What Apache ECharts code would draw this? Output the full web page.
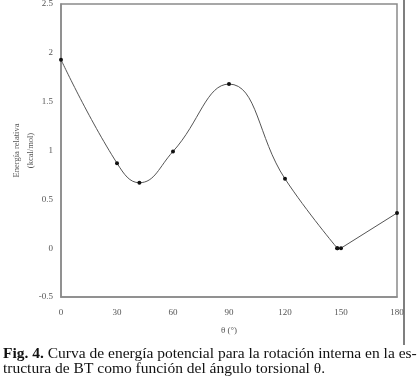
<!DOCTYPE html>
<html><head><meta charset="utf-8">
<script src="https://cdn.jsdelivr.net/npm/echarts@6/dist/echarts.min.js"></script>
<style>html,body{margin:0;padding:0;background:#fff}#c{width:419px;height:382px}</style>
</head><body><div id="c"></div>
<script>
// smooth part of the curve (0 … 148°) and straight tail (148 … 180°)
const thetaSmooth = [0, 30, 42, 60, 90, 120, 148];
const energySmooth = [1.93, 0.87, 0.67, 0.99, 1.68, 0.71, 0.0];
const thetaTail = [148, 150, 180];
const energyTail = [0.0, 0.0, 0.36];
const xTicks = [0, 30, 60, 90, 120, 150, 180];
const yTicks = [-0.5, 0, 0.5, 1, 1.5, 2, 2.5];
const yName1 = 'Energía relativa';
const yName2 = '(kcal/mol)';
const xName = 'θ (°)';

const chart = echarts.init(document.getElementById('c'));
const serif = '"Liberation Serif","DejaVu Serif",serif';
const lineStyle = {color: '#555', width: 1};
chart.setOption({
  backgroundColor: '#fff',
  animation: false,
  grid: {left: 61, right: 22, top: 4, bottom: 85, containLabel: false, outerBoundsMode: 'none',
         show: true, borderColor: '#8a8a8a', borderWidth: 1.5, backgroundColor: 'transparent'},
  xAxis: {
    type: 'value', min: xTicks[0], max: xTicks[xTicks.length-1], interval: 30,
    axisLine: {show: true, onZero: false, lineStyle: {color: '#8a8a8a', width: 1.5}},
    axisTick: {show: false}, splitLine: {show: false},
    axisLabel: {color: '#555', fontFamily: serif, fontSize: 9, margin: 11},
    name: xName, nameLocation: 'middle', nameGap: 29, nameMoveOverlap: false,
    nameTextStyle: {color: '#555', fontFamily: serif, fontSize: 9}
  },
  yAxis: {
    type: 'value', min: yTicks[0], max: yTicks[yTicks.length-1], interval: 0.5,
    axisLine: {show: true, onZero: false, lineStyle: {color: '#8a8a8a', width: 1.5}},
    axisTick: {show: false}, splitLine: {show: false},
    axisLabel: {color: '#555', fontFamily: serif, fontSize: 9, margin: 8},
    name: yName1 + '\n' + yName2, nameLocation: 'middle', nameGap: 23, nameRotate: 90, nameMoveOverlap: false,
    nameTextStyle: {color: '#555', fontFamily: serif, fontSize: 8.5, lineHeight: 14}
  },
  series: [{
    type: 'line', data: thetaSmooth.map((t, i) => [t, energySmooth[i]]),
    smooth: 0.45, symbol: 'circle', symbolSize: 4,
    lineStyle: lineStyle, itemStyle: {color: '#111'}
  }, {
    type: 'line', data: thetaTail.map((t, i) => [t, energyTail[i]]),
    smooth: false, symbol: 'circle', symbolSize: 4,
    lineStyle: lineStyle, itemStyle: {color: '#111'}
  }],
  graphic: [
    {type: 'line', shape: {x1: 404, y1: 0, x2: 404, y2: 345}, style: {stroke: '#555', lineWidth: 1.5}},
    {type: 'text', left: 3, top: 346, style: {
      text: '{b|Fig. 4.} Curva de energía potencial para la rotación interna en la es-\ntructura de BT como función del ángulo torsional θ.',
      rich: {b: {fontWeight: 'bold', fontFamily: serif, fontSize: 15.5, fill: '#111'}},
      fontFamily: serif, fontSize: 15.5, fill: '#111', lineHeight: 15
    }}
  ]
});
</script></body></html>
